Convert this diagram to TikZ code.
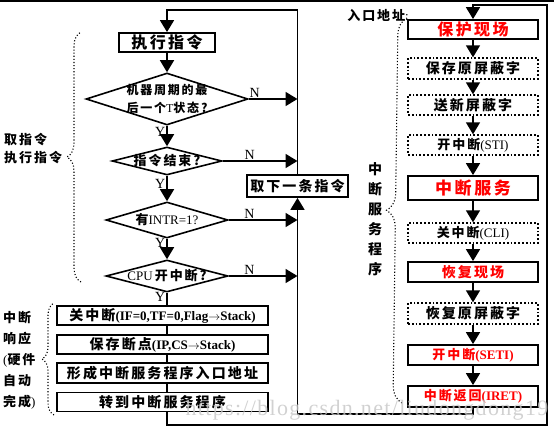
\documentclass[tikz,border=0pt]{standalone}
\usepackage{fontspec}
\setmainfont{Liberation Serif}
\newfontfamily\cjk{Noto Sans CJK SC}[LetterSpace=15]
\usetikzlibrary{shapes.geometric,arrows.meta,decorations.pathreplacing}
\newcommand{\zhtxt}[1]{{\cjk\bfseries #1}}
\newcommand{\lat}[1]{{\fontsize{13}{15}\selectfont\bfseries #1}}
\definecolor{redtxt}{RGB}{255,0,0}
\begin{document}
\begin{tikzpicture}[x=1pt,y=-1pt,
	line/.style={line width=1.6pt},
	arr/.style={line width=1.6pt, -{Triangle[width=14pt,length=12pt]}},
	box/.style={draw, line width=1.8pt, inner sep=1pt, minimum height=20pt, font=\fontsize{14}{16}\selectfont},
	dbox/.style={box, dotted, line width=1.4pt},
	rbox/.style={box, text=redtxt},
	dia/.style={diamond, draw, line width=1.6pt, inner sep=0pt, aspect=1},
	dlbl/.style={align=center, inner sep=0pt, font=\fontsize{13}{18}\selectfont},
	yn/.style={font=\fontsize{14}{14}\selectfont, inner sep=1pt},
	brc/.style={dotted, line width=1.1pt, decorate, decoration={brace, amplitude=#1}},
	side/.style={align=left, inner sep=0pt, font=\fontsize{13}{18}\selectfont}]
	\useasboundingbox (0,0) rectangle (554,431);
	\draw[line width=1.5pt] (0,0.75) -- (554,0.75);
	% fetch / execute loop
	\node[box, minimum width=96pt, minimum height=19pt, font=\fontsize{16}{16}\selectfont] (exec) at (167,42.5) {\zhtxt{执行指令}};
	\node[dia, minimum width=162pt, minimum height=52pt] (last) at (167,99) {};
	\node[dlbl, font=\fontsize{12}{18}\selectfont] (lastt) at (167,99) {\zhtxt{机器周期的最}\\\zhtxt{后一个}T\zhtxt{状态?}};
	\node[dia, minimum width=110pt, minimum height=28pt] (iend) at (167,161) {};
	\node[dlbl] (iendt) at (167,161) {\zhtxt{指令结束?}};
	\node[dia, minimum width=122pt, minimum height=36pt] (intr) at (167,220) {};
	\node[dlbl] (intrt) at (167,220) {\zhtxt{有}INTR=1?};
	\node[dia, minimum width=122pt, minimum height=32pt] (ien) at (167,276) {};
	\node[dlbl] (ient) at (167,276) {CPU\,\zhtxt{开中断?}};
	\node[box, minimum width=101pt, minimum height=22pt] (next) at (297.5,186) {\zhtxt{取下一条指令}};
	% hardware response
	\node[box, minimum width=211pt, minimum height=19pt] (cli1) at (162.5,315.5) {\zhtxt{关中断}\lat{(IF=0,TF=0,Flag$\rightarrow$Stack)}};
	\node[box, minimum width=211pt, minimum height=19pt] (push) at (162.5,344.5) {\zhtxt{保存断点}\lat{(IP,CS$\rightarrow$Stack)}};
	\node[box, minimum width=211pt] (vect) at (162.5,373) {\zhtxt{形成中断服务程序入口地址}};
	\node[box, minimum width=211pt, minimum height=19pt] (jump) at (162.5,402) {\zhtxt{转到中断服务程序}};
	% service routine
	\node[rbox, minimum width=130pt, minimum height=19pt, font=\fontsize{16}{16}\selectfont] (prot) at (473,29.5) {\zhtxt{保护现场}};
	\node[dbox, minimum width=130pt, minimum height=21pt] (savm) at (473,68.5) {\zhtxt{保存原屏蔽字}};
	\node[dbox, minimum width=130pt] (newm) at (473,105) {\zhtxt{送新屏蔽字}};
	\node[dbox, minimum width=130pt, font=\fontsize{13}{15}\selectfont] (sti) at (473,145) {\zhtxt{开中断}(STI)};
	\node[rbox, minimum width=130pt, minimum height=24pt, font=\fontsize{17}{17}\selectfont] (serv) at (473,188) {\zhtxt{中断服务}};
	\node[dbox, minimum width=130pt, font=\fontsize{13}{15}\selectfont] (clir) at (473,233) {\zhtxt{关中断}(CLI)};
	\node[rbox, minimum width=130pt] (rest) at (473,272) {\zhtxt{恢复现场}};
	\node[dbox, minimum width=130pt, minimum height=21pt] (restm) at (473,313.5) {\zhtxt{恢复原屏蔽字}};
	\node[rbox, minimum width=130pt, font=\fontsize{13}{15}\selectfont] (seti) at (473,355) {\zhtxt{开中断}\lat{(SETI)}};
	\node[rbox, minimum width=130pt, minimum height=21pt, font=\fontsize{13}{15}\selectfont] (iret) at (473,396.5) {\zhtxt{中断返回}\lat{(IRET)}};
	% side texts
	\node[side, anchor=west] (fetch) at (4,149) {\zhtxt{取指令}\\\zhtxt{执行指令}};
	\node[side, anchor=west, font=\fontsize{13}{21}\selectfont] (resp) at (3,360) {\zhtxt{中断}\\\zhtxt{响应}\\(\zhtxt{硬件}\\\zhtxt{自动}\\\zhtxt{完成})};
	\node[side, anchor=east] (entry) at (409,15) {\zhtxt{入口地址}:};
	\node[align=center, inner sep=0pt, font=\fontsize{14}{20}\selectfont] (srvlbl) at (375,219) {\zhtxt{中}\\\zhtxt{断}\\\zhtxt{服}\\\zhtxt{务}\\\zhtxt{程}\\\zhtxt{序}};
	\draw[brc=14pt] (81,282) -- (81,32);
	\draw[brc=12pt] (54,415) -- (54,303);
	\draw[brc=18pt] (402,403) -- (407,18);
	% connectors
	\coordinate (ltop) at (167,10);
	\coordinate (rbot) at (547,425);
	\coordinate (rtop) at (547,5);
	\draw[arr] (next.north) |- (ltop) -- (exec.north);
	\draw[arr] (exec) -- (last);
	\draw[arr] (last) -- node[yn, left, pos=0.3] {Y} (iend);
	\draw[arr] (iend) -- node[yn, left, pos=0.3] {Y} (intr);
	\draw[arr] (intr) -- node[yn, left, pos=0.2] {Y} (ien);
	\draw[line] (ien) -- node[yn, left, pos=0.35] {Y} (ien.south |- cli1.north);
	\foreach \a/\b in {cli1/push, push/vect, vect/jump}
		\draw[line] (\a.south -| ien) -- (\b.north -| ien);
	\draw[arr] (last.east) -- node[yn, above, pos=0.12] {N} (last.east -| next);
	\draw[arr] (iend.east) -- node[yn, above, pos=0.36] {N} (iend.east -| next);
	\draw[arr] (intr.east) -- node[yn, above, pos=0.3] {N} (intr.east -| next);
	\draw[arr] (ien.east) -- node[yn, above, pos=0.3] {N} (ien.east -| next);
	\draw[arr] (jump.south -| ien) |- (rbot) -- (rtop) -| (prot.north);
	\foreach \a/\b in {prot/savm, savm/newm, newm/sti, sti/serv, serv/clir, clir/rest, rest/restm, restm/seti, seti/iret}
		\draw[arr] (\a) -- (\b);
	\draw[arr] (iret.south) -- ++(0,6) -| (next.south);
	\node[text=gray!45, opacity=0.8, font=\fontsize{22}{22}\selectfont\addfontfeature{LetterSpace=6}] (wm) at (367,410) {https://blog.csdn.net/liudongdong19};
\end{tikzpicture}
\end{document}
